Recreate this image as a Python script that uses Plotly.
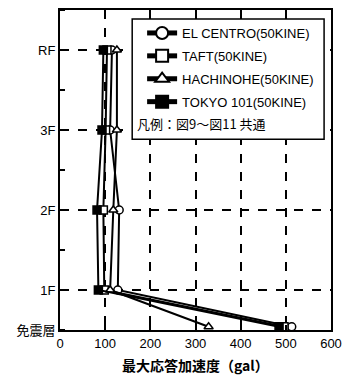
import plotly.graph_objects as go

# Floors (bottom to top) and their vertical positions on the chart
floor_labels = ["免震層", "1F", "2F", "3F", "RF"]
floor_pos = [0.08, 1, 3, 5, 7]

# Max response acceleration (gal) per floor, bottom to top
series_names = ["EL CENTRO(50KINE)", "TAFT(50KINE)", "HACHINOHE(50KINE)", "TOKYO 101(50KINE)"]
el_centro = [513, 128, 131, 111, 115]
taft = [496, 98, 96, 101, 104]
hachinohe = [329, 111, 118, 126, 126]
tokyo101 = [485, 85, 82, 93, 96]

x_ticks = [0, 100, 200, 300, 400, 500, 600]
y_tick_pos = [0, 1, 3, 5, 7]
note_text = "凡例：図9〜図11 共通"
x_title = "最大応答加速度（gal）"

styles = [
    dict(symbol="circle", color="white"),
    dict(symbol="square", color="white"),
    dict(symbol="triangle-up", color="white"),
    dict(symbol="square", color="black"),
]
data = [el_centro, taft, hachinohe, tokyo101]

fig = go.Figure()
for i, (name, vals, st) in enumerate(zip(series_names, data, styles)):
    fig.add_trace(go.Scatter(
        x=vals, y=floor_pos, name=name, mode="lines+markers",
        legendgroup=f"g{i}",
        line=dict(color="black", width=2),
        marker=dict(symbol=st["symbol"], color=st["color"], size=8,
                    line=dict(color="black", width=1.5)),
        cliponaxis=False,
    ))

fig.update_layout(
    width=350, height=376,
    margin=dict(l=60, r=16, t=8, b=46),
    paper_bgcolor="white", plot_bgcolor="white",
    showlegend=True,
    legend=dict(x=0.303, y=0.975, xanchor="left", yanchor="top",
                bgcolor="rgba(0,0,0,0)", borderwidth=0,
                font=dict(family="Liberation Sans, Arial", size=13, color="black"),
                itemsizing="constant", tracegroupgap=3),
    font=dict(family="Liberation Sans, Noto Sans CJK JP", color="black"),
)

fig.update_xaxes(
    range=[0, 600], tickvals=x_ticks, ticktext=[str(v) for v in x_ticks],
    showline=True, linecolor="black", linewidth=2, mirror="ticks",
    ticks="inside", ticklen=5, tickwidth=1.5, tickcolor="black",
    showgrid=True, gridcolor="black", gridwidth=1.5, griddash="dash",
    zeroline=False,
    tickfont=dict(family="Liberation Sans, Arial", size=13, color="black"),
)
fig.update_yaxes(
    range=[0, 8], tickvals=y_tick_pos, ticktext=floor_labels,
    showline=True, linecolor="black", linewidth=2, mirror=True,
    ticks="", showgrid=True, gridcolor="black", gridwidth=1.5, griddash="dash",
    zeroline=False,
    minor=dict(tick0=0, dtick=2, ticks="inside", ticklen=5, tickwidth=1.5,
               tickcolor="black", showgrid=False),
    tickfont=dict(family="Liberation Sans, Noto Sans CJK JP", size=13, color="black"),
)

# Legend frame (white box) and note
fig.add_shape(type="rect", xref="paper", yref="paper",
              x0=0.2664, x1=0.9745, y0=0.5963, y1=0.972,
              line=dict(color="black", width=1.5), fillcolor="white", layer="above")
fig.add_annotation(text=note_text, xref="paper", yref="paper",
                   x=0.2774, y=(330 - 122) / 322, xanchor="left", yanchor="middle",
                   showarrow=False,
                   font=dict(family="Noto Sans CJK JP", size=13, color="black"))
fig.add_annotation(text=x_title, xref="paper", yref="paper",
                   x=0.5, y=-35 / 322, xanchor="center", yanchor="middle",
                   showarrow=False,
                   font=dict(family="Noto Sans CJK JP", size=14, color="black", weight="bold"))

fig.write_html("out.html")
